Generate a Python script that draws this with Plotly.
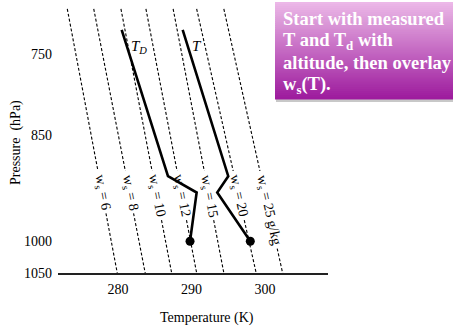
import numpy as np
import plotly.graph_objects as go

# ---------------- data ----------------
ws_values = [6, 8, 10, 12, 15, 20, 25]                               # g/kg
ws_T_at_1050 = [279.9, 283.7, 287.3, 290.7, 294.4, 298.8, 302.4]     # K
ws_T_at_700 = [273.1, 276.7, 280.4, 283.8, 287.5, 290.7, 294.4]      # K
ws_p_bottom = 1050
ws_p_top = 700

p_profile = [723, 905, 928, 1000]          # hPa
T_profile = [288.8, 295.0, 293.5, 298.0]   # K
Td_profile = [280.5, 286.8, 290.7, 289.8]  # K

x_ticks = [280, 290, 300]
y_ticks = [750, 850, 1000, 1050]

box_lines = ["Start with measured", "T and T<sub>d</sub> with",
             "altitude, then overlay", "w<sub>s</sub>(T)."]

# ---------------- layout constants ----------------
W, H = 453, 326
ML, MR, MT, MB = 58, 125, 5, 53
PW, PH = W - ML - MR, H - MT - MB
PX_PER_K = 7.35
PX_PER_DEC = 1500.0
x_range = [280 + (ML - 118) / PX_PER_K, 280 + (ML + PW - 118) / PX_PER_K]
y_bot = np.log10(1050)
y_top = y_bot - PH / PX_PER_DEC
SERIF = "Liberation Serif"


def px_x(px):
    return (px - ML) / PW


def px_y(py):
    return (MT + PH - py) / PH


def py_to_logp(py):
    return y_top + (py - MT) / PH * (y_bot - y_top)


def ws_T(i, logp):
    lb, lt = np.log10(ws_p_bottom), np.log10(ws_p_top)
    f = (logp - lb) / (lt - lb)
    return ws_T_at_1050[i] + (ws_T_at_700[i] - ws_T_at_1050[i]) * f


def paper_note(px, py, text, size, angle=0, color="black", xanchor="center"):
    return dict(x=px_x(px), y=px_y(py), xref="paper", yref="paper",
                xanchor=xanchor, yanchor="middle", text=text, showarrow=False,
                textangle=angle, font=dict(family=SERIF, size=size, color=color))


fig = go.Figure()
annotations = []

# mixing-ratio lines with gaps for their labels
label_top_py = 175
for i, v in enumerate(ws_values):
    last = i == len(ws_values) - 1
    txt = f"w<sub>s</sub> = {v}" + (" g/kg" if last else "")
    Lpx = 36 + 7 * (len(str(v)) - 1) + (29 if last else 0)
    gap0 = label_top_py - 4
    gap1 = label_top_py + Lpx * 0.98 + 3
    lp_c = py_to_logp(label_top_py + Lpx * 0.98 / 2)
    lp0, lp1 = py_to_logp(gap0), py_to_logp(gap1)
    lps = [np.log10(ws_p_top), lp0, None, lp1, np.log10(ws_p_bottom)]
    xs = [ws_T(i, l) if l is not None else None for l in lps]
    ys = [10 ** l if l is not None else None for l in lps]
    fig.add_trace(go.Scatter(x=xs, y=ys, mode="lines", connectgaps=False,
                             line=dict(color="black", width=1.1, dash="3px,2px"),
                             hoverinfo="skip", showlegend=False))
    dxp = (ws_T_at_700[i] - ws_T_at_1050[i]) * PX_PER_K
    dyp = (np.log10(ws_p_bottom) - np.log10(ws_p_top)) * PX_PER_DEC
    ang = np.degrees(np.arctan2(dyp, -dxp))
    annotations.append(dict(x=ws_T(i, lp_c), y=lp_c, xref="x", yref="y",
                            xanchor="center", yanchor="middle",
                            text=txt, showarrow=False, textangle=ang,
                            font=dict(family=SERIF, size=14, color="black")))

# sounding profiles
for xs in (Td_profile, T_profile):
    fig.add_trace(go.Scatter(x=xs, y=p_profile, mode="lines",
                             line=dict(color="black", width=2.6),
                             hoverinfo="skip", showlegend=False))
    fig.add_trace(go.Scatter(x=[xs[-1]], y=[p_profile[-1]], mode="markers",
                             marker=dict(color="black", size=9),
                             hoverinfo="skip", showlegend=False))

annotations.append(paper_note(139, 47, "<i>T<sub>D</sub></i>", 15))
annotations.append(paper_note(197, 46, "<i>T</i>", 15))

# axis titles
annotations.append(paper_note(207, 318, "Temperature (K)", 14))
annotations.append(paper_note(16, 143, "Pressure  (hPa)", 14, angle=-90))

# gradient box
shapes = []
bx0, bx1, by0, by1 = 275, 460, 2, 99
shapes.append(dict(type="rect", xref="paper", yref="paper",
                   x0=px_x(bx0 + 1), x1=px_x(bx1 + 2), y0=px_y(by0 + 2), y1=px_y(by1 + 3),
                   fillcolor="#c8c8c8", line=dict(width=0), layer="above"))
c_top = np.array([236, 184, 232])
c_bot = np.array([158, 28, 158])
n = 48
for k in range(n):
    f = k / (n - 1)
    c = (c_top + (c_bot - c_top) * f).astype(int)
    ya = by0 + (by1 - by0) * k / n
    yb = by0 + (by1 - by0) * (k + 1) / n + 0.6
    shapes.append(dict(type="rect", xref="paper", yref="paper",
                       x0=px_x(bx0), x1=px_x(bx1), y0=px_y(ya), y1=px_y(yb),
                       fillcolor=f"rgb({c[0]},{c[1]},{c[2]})", line=dict(width=0),
                       layer="above"))
line_centres = [19, 41, 63, 85]
for txt, yc in zip(box_lines, line_centres):
    annotations.append(paper_note(281, yc, f"<b>{txt}</b>", 18.5, color="white",
                                  xanchor="left"))

fig.update_layout(
    width=W, height=H, margin=dict(l=ML, r=MR, t=MT, b=MB),
    paper_bgcolor="white", plot_bgcolor="white",
    showlegend=False, annotations=annotations, shapes=shapes,
    font=dict(family=SERIF, size=14, color="black"),
)
fig.update_xaxes(range=x_range, tickvals=x_ticks, ticktext=[str(t) for t in x_ticks],
                 showgrid=False, zeroline=False, showline=True, linecolor="#222",
                 linewidth=2, ticks="", ticklabelstandoff=2,
                 tickfont=dict(family=SERIF, size=14, color="black"))
fig.update_yaxes(type="log", range=[y_bot, y_top], tickvals=y_ticks,
                 ticktext=[str(t) for t in y_ticks],
                 showgrid=False, zeroline=False, showline=False, ticks="",
                 ticklabelstandoff=5,
                 tickfont=dict(family=SERIF, size=14, color="black"))

fig.write_html("out.html", config={"displayModeBar": False},
               post_script="document.body.style.margin='0px';")
